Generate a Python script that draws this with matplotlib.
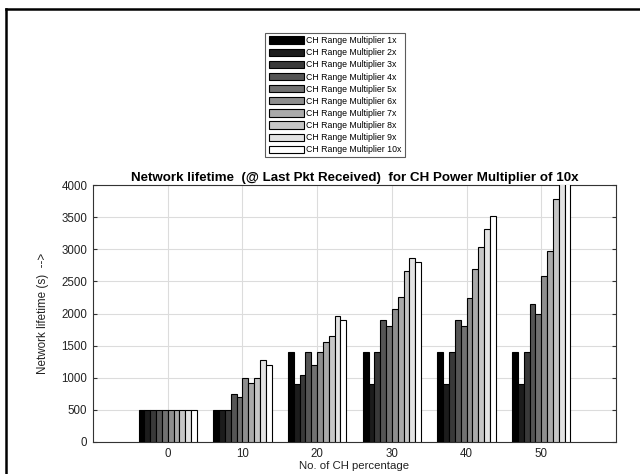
import numpy as np
import matplotlib.pyplot as plt
from matplotlib.lines import Line2D

plt.rcParams['font.family'] = ['Liberation Sans', 'DejaVu Sans']

ch_percent = [0, 10, 20, 30, 40, 50]
multipliers = [f"CH Range Multiplier {k}x" for k in range(1, 11)]

# lifetime (s) per CH percentage, one row per range multiplier
lifetime = np.array([
    [500, 500, 1400, 1400, 1400, 1400],
    [500, 500, 900, 900, 900, 900],
    [500, 500, 1050, 1400, 1400, 1400],
    [500, 750, 1400, 1900, 1900, 2150],
    [500, 700, 1200, 1800, 1800, 2000],
    [500, 1000, 1400, 2070, 2240, 2580],
    [500, 920, 1550, 2260, 2700, 2980],
    [500, 1000, 1650, 2660, 3030, 3780],
    [500, 1280, 1960, 2860, 3320, 4200],
    [500, 1200, 1900, 2800, 3520, 4400],
])

fig = plt.figure(figsize=(6.4, 4.74), dpi=100)
ax = fig.add_axes([93 / 640, 1 - 442 / 474, (616 - 93) / 640, (442 - 185) / 474])

n = len(multipliers)
group_w = 7.8
bw = group_w / n
x = np.array(ch_percent, dtype=float)
greys = np.linspace(0, 1, n)

handles = []
for i in range(n):
    off = (i - (n - 1) / 2) * bw
    c = (greys[i],) * 3
    b = ax.bar(x + off, lifetime[i], width=bw, color=c, edgecolor='black',
               linewidth=0.8, label=multipliers[i], zorder=3)
    handles.append(b)

ax.set_xlim(-10, 60)
ax.set_ylim(0, 4000)
ax.set_xticks(ch_percent)
ax.set_yticks(np.arange(0, 4001, 500))
ax.grid(True, color='#dcdcdc', linewidth=0.8, zorder=0)
ax.tick_params(direction='in', length=3, labelsize=8.3, colors='#333333',
               labelcolor='#222222', top=False, right=True, pad=4)
for s in ax.spines.values():
    s.set_color('#333333')
    s.set_linewidth(0.8)

ax.set_title("Network lifetime  (@ Last Pkt Received)  for CH Power Multiplier of 10x",
             fontsize=9.6, fontweight='bold', pad=3)
ax.set_xlabel("No. of CH percentage", fontsize=8.2, labelpad=1, color='#222222')
ax.set_ylabel("Network lifetime (s)  -->", fontsize=8.4, labelpad=9, color='#222222')

leg = fig.legend(handles=handles, loc='upper center', bbox_to_anchor=(335 / 640, 1 - 33 / 474),
                 fontsize=6.3, frameon=True, fancybox=False, borderpad=0.35,
                 labelspacing=0.36, handlelength=4.0, handleheight=0.9,
                 handletextpad=0.3, borderaxespad=0)
leg.get_frame().set_edgecolor('#333333')
leg.get_frame().set_linewidth(0.8)

# page frame along the left and top edges
fig.add_artist(Line2D([6 / 640, 6 / 640], [0, 1 - 8.5 / 474], color='black',
                      linewidth=1.8, transform=fig.transFigure))
fig.add_artist(Line2D([6 / 640, 1], [1 - 8.5 / 474, 1 - 8.5 / 474], color='black',
                      linewidth=1.8, transform=fig.transFigure))

fig.savefig("out.png", dpi=100)
